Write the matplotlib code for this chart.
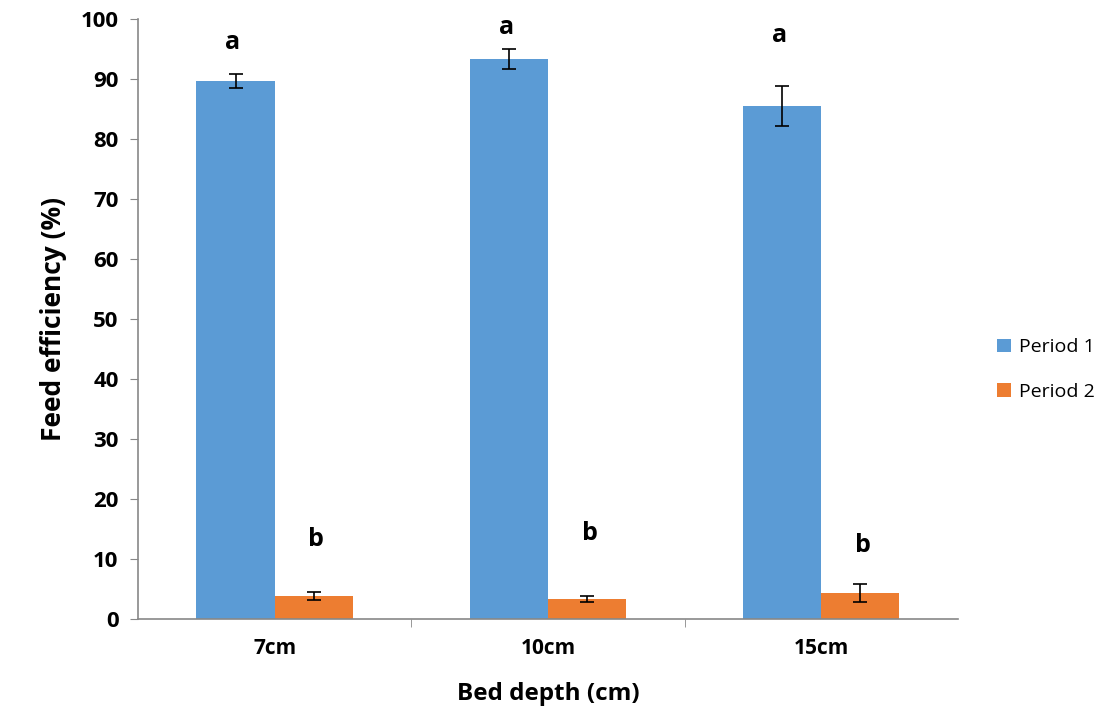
import numpy as np
import matplotlib.pyplot as plt

# data
depths = ["7cm", "10cm", "15cm"]
period1 = [89.7, 93.3, 85.5]
period1_err = [1.2, 1.7, 3.4]
period2 = [3.8, 3.4, 4.4]
period2_err = [0.7, 0.5, 1.5]
letters1 = ["a", "a", "a"]
letters1_y = [96.0, 98.5, 97.3]
letters2 = ["b", "b", "b"]
letters2_y = [13.2, 14.3, 12.3]

plt.rcParams['font.family'] = ['Open Sans', 'DejaVu Sans']

fig = plt.figure(figsize=(11.08, 7.16), dpi=100)
ax = fig.add_axes([0.1245, 0.1355, 0.74, 0.838])

x = np.arange(len(depths))
w = 0.286
c1 = "#5b9bd5"
c2 = "#ed7d31"

ax.bar(x - w / 2, period1, w, color=c1, label="Period 1",
       yerr=period1_err, capsize=5, error_kw=dict(elinewidth=1.2, capthick=1.2, ecolor="black"))
ax.bar(x + w / 2, period2, w, color=c2, label="Period 2",
       yerr=period2_err, capsize=5, error_kw=dict(elinewidth=1.2, capthick=1.2, ecolor="black"))

for i in range(len(depths)):
    ax.text(x[i] - w / 2 - 0.01, letters1_y[i], letters1[i], ha="center", va="center",
            fontsize=18, fontweight="bold")
    ax.text(x[i] + w / 2 + 0.01, letters2_y[i], letters2[i], ha="center", va="center",
            fontsize=18, fontweight="bold")

ax.set_xlim(-0.5, 2.5)
ax.set_ylim(0, 100)
ax.set_yticks(np.arange(0, 101, 10))
ax.set_xticks(x)
ax.set_xticklabels(depths)
ax.set_xticks([0.5, 1.5], minor=True)
ax.tick_params(axis="x", which="major", length=0, pad=14)
ax.tick_params(axis="x", which="minor", length=6, color="#888888", direction="out")
ax.tick_params(axis="y", length=6, color="#888888", direction="out", pad=8)
for lab in ax.get_xticklabels():
    lab.set_fontsize(15)
    lab.set_fontweight("bold")
for lab in ax.get_yticklabels():
    lab.set_fontsize(16)
    lab.set_fontweight("bold")

for s in ["top", "right"]:
    ax.spines[s].set_visible(False)
for s in ["left", "bottom"]:
    ax.spines[s].set_color("#888888")
    ax.spines[s].set_linewidth(1.2)

ax.set_xlabel("Bed depth (cm)", fontsize=17.5, fontweight="bold", labelpad=16)
ax.set_ylabel("Feed efficiency (%)", fontsize=19, fontweight="bold", labelpad=10)

fig.legend(loc="center left", bbox_to_anchor=(0.9, 0.484), borderaxespad=0,
           borderpad=0, frameon=False,
           fontsize=14, handlelength=0.7, handleheight=0.7, labelspacing=1.35,
           handletextpad=0.4)

fig.savefig("out.png", dpi=100)
